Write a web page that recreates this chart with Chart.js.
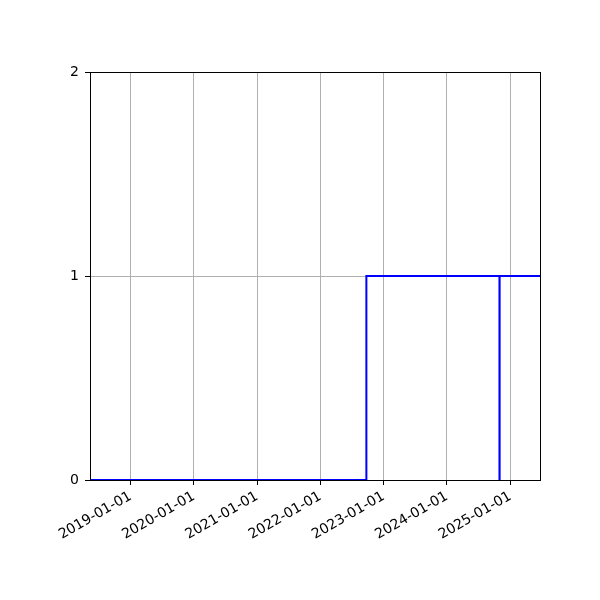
<!DOCTYPE html>
<html>
<head>
<meta charset="utf-8">
<script src="https://cdn.jsdelivr.net/npm/chart.js@4"></script>
<style>
  body { margin: 0; background: #fff; }
  #wrap { width: 600px; height: 600px; }
</style>
</head>
<body>
<div id="wrap"><canvas id="chart" width="600" height="600"></canvas></div>
<script>
// step series: date of each change and the value from then on
var dates = ['2018-05-12', '2022-09-23', '2024-10-30', '2024-10-31', '2025-06-21']
var values = [0, 1, 0, 1, 1]

var xLimits = ['2018-05-12', '2025-06-21']
var xTickLabels = ['2019-01-01', '2020-01-01', '2021-01-01', '2022-01-01', '2023-01-01', '2024-01-01', '2025-01-01']
var yTicks = [0, 1, 2]

function toMs(s) {
	var p = s.split('-')
	return Date.UTC(+p[0], +p[1] - 1, +p[2])
}

function pad(n) {
	return n < 10 ? '0' + n : '' + n
}
function fmtDate(ms) {
	var d = new Date(ms)
	return `${d.getUTCFullYear()}-${pad(d.getUTCMonth() + 1)}-${pad(d.getUTCDate())}`
}

// matplotlib-like box round the plot area
var frame = {
	id: 'frame',
	afterDraw: function(chart) {
		var a = chart.chartArea
		var ctx = chart.ctx
		ctx.save()
		ctx.strokeStyle = '#000'
		ctx.lineWidth = 1
		ctx.strokeRect(Math.round(a.left) + 0.5, Math.round(a.top) + 0.5, Math.round(a.right - a.left), Math.round(a.bottom - a.top))
		ctx.restore()
	}
}

var font = { family: 'DejaVu Sans', size: 14 }

var ctx = document.getElementById('chart').getContext('2d')
var chart = new Chart(ctx, {
	type: 'line',
	data: {
		datasets: [{
			data: dates.map((d, i) => ({ x: toMs(d), y: values[i] })),
			borderColor: '#0000ff',
			borderWidth: 2,
			stepped: 'before',
			pointRadius: 0,
			fill: false
		}]
	},
	options: {
		responsive: false,
		animation: false,
		layout: { padding: { top: 72, right: 60, left: 0, bottom: 0 } },
		plugins: { legend: { display: false }, tooltip: { enabled: false } },
		scales: {
			x: {
				type: 'linear',
				min: toMs(xLimits[0]),
				max: toMs(xLimits[1]),
				afterBuildTicks: function(axis) {
					axis.ticks = xTickLabels.map(s => ({ value: toMs(s) }))
				},
				afterFit: function(axis) { axis.height = 120 },
				ticks: {
					font: font,
					color: '#000',
					maxRotation: 30,
					minRotation: 30,
					padding: 3,
					autoSkip: false,
					callback: function(v) { return fmtDate(v) }
				},
				grid: { color: '#b0b0b0', lineWidth: 1, tickColor: '#000', tickLength: 5 },
				border: { color: '#000', width: 1 }
			},
			y: {
				min: 0,
				max: 2,
				afterBuildTicks: function(axis) {
					axis.ticks = yTicks.map(v => ({ value: v }))
				},
				afterFit: function(axis) { axis.width = 90 },
				ticks: { font: font, color: '#000', padding: 6 },
				grid: { color: '#b0b0b0', lineWidth: 1, tickColor: '#000', tickLength: 5 },
				border: { color: '#000', width: 1 }
			}
		}
	},
	plugins: [frame]
})
</script>
</body>
</html>
